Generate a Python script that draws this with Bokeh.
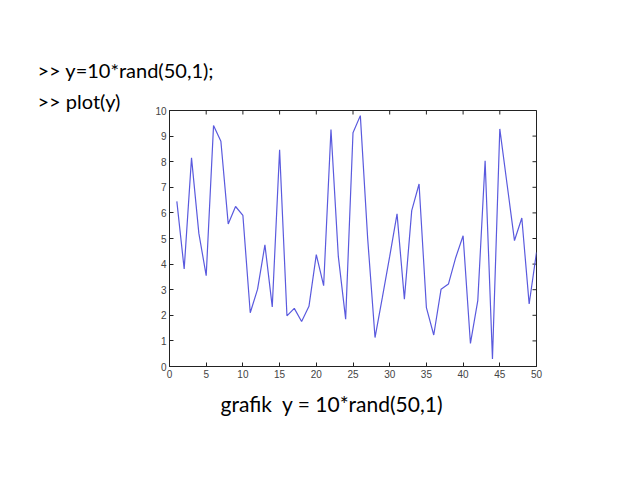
import math
from bokeh.plotting import figure
from bokeh.models import Range1d, Title, FixedTicker
from bokeh.embed import file_html
from bokeh.resources import INLINE

xs = list(range(1, 51))
ys = [6.45, 3.81, 8.15, 5.2, 3.55, 9.41, 8.8, 5.57, 6.25, 5.9,
      2.1, 3.02, 4.75, 2.33, 8.47, 1.98, 2.27, 1.76, 2.35, 4.37,
      3.16, 9.26, 4.3, 1.85, 9.13, 9.8, 5.0, 1.13, 2.7, 4.3,
      5.96, 2.63, 6.09, 7.13, 2.3, 1.23, 3.02, 3.22, 4.26, 5.11,
      0.9, 2.57, 8.04, 0.29, 9.28, 7.1, 4.92, 5.8, 2.44, 4.46]
x_ticks = [0, 5, 10, 15, 20, 25, 30, 35, 40, 45, 50]
y_ticks = [0, 1, 2, 3, 4, 5, 6, 7, 8, 9, 10]
line1 = ">> y=10*rand(50,1);"
line2 = ">> plot(y)"
caption = "grafik\u00a0 y = 10*rand(50,1)"

p = figure(width=622, height=463, output_backend="svg", toolbar_location=None,
           x_range=Range1d(0, 50), y_range=Range1d(0, 10),
           min_border_left=169, min_border_right=86, min_border_top=110,
           min_border_bottom=97)
p.xgrid.visible = False
p.ygrid.visible = False
p.outline_line_color = "#222222"
p.background_fill_color = "white"
p.border_fill_color = "white"

for ax in (p.xaxis[0], p.yaxis[0]):
    ax.major_tick_in = 4
    ax.major_tick_out = 0
    ax.minor_tick_line_color = None
    ax.axis_line_color = "#222222"
    ax.major_tick_line_color = "#222222"
    ax.major_label_text_font = "Liberation Sans"
    ax.major_label_text_font_size = "10px"
    ax.major_label_text_color = "#444444"
    ax.major_label_standoff = 3
p.xaxis[0].ticker = FixedTicker(ticks=x_ticks)
p.yaxis[0].ticker = FixedTicker(ticks=y_ticks)

p.add_layout(Title(text=line2, align="left", offset=-132, standoff=-5,
                   text_font="Lato", text_font_size="20px", text_font_style="normal",
                   text_color="black"), "above")
p.add_layout(Title(text=line1, align="left", offset=-132, standoff=15,
                   text_font="Lato", text_font_size="20px", text_font_style="normal",
                   text_color="black"), "above")
p.add_layout(Title(text=caption, align="left", offset=51, standoff=16,
                   text_font="Lato", text_font_size="21px", text_font_style="normal",
                   text_color="black"), "below")

# inner ticks on top and right edges (half of each dash is clipped by the frame)
p.scatter(x_ticks, [10] * len(x_ticks), marker="dash", size=8, angle=math.pi / 2,
          line_color="#222222", line_width=1)
p.scatter([50] * len(y_ticks), y_ticks, marker="dash", size=8, angle=0,
          line_color="#222222", line_width=1)

p.line(xs, ys, line_color="#5a5ade", line_width=1.2)

open("out.html", "w").write(file_html(p, INLINE))
